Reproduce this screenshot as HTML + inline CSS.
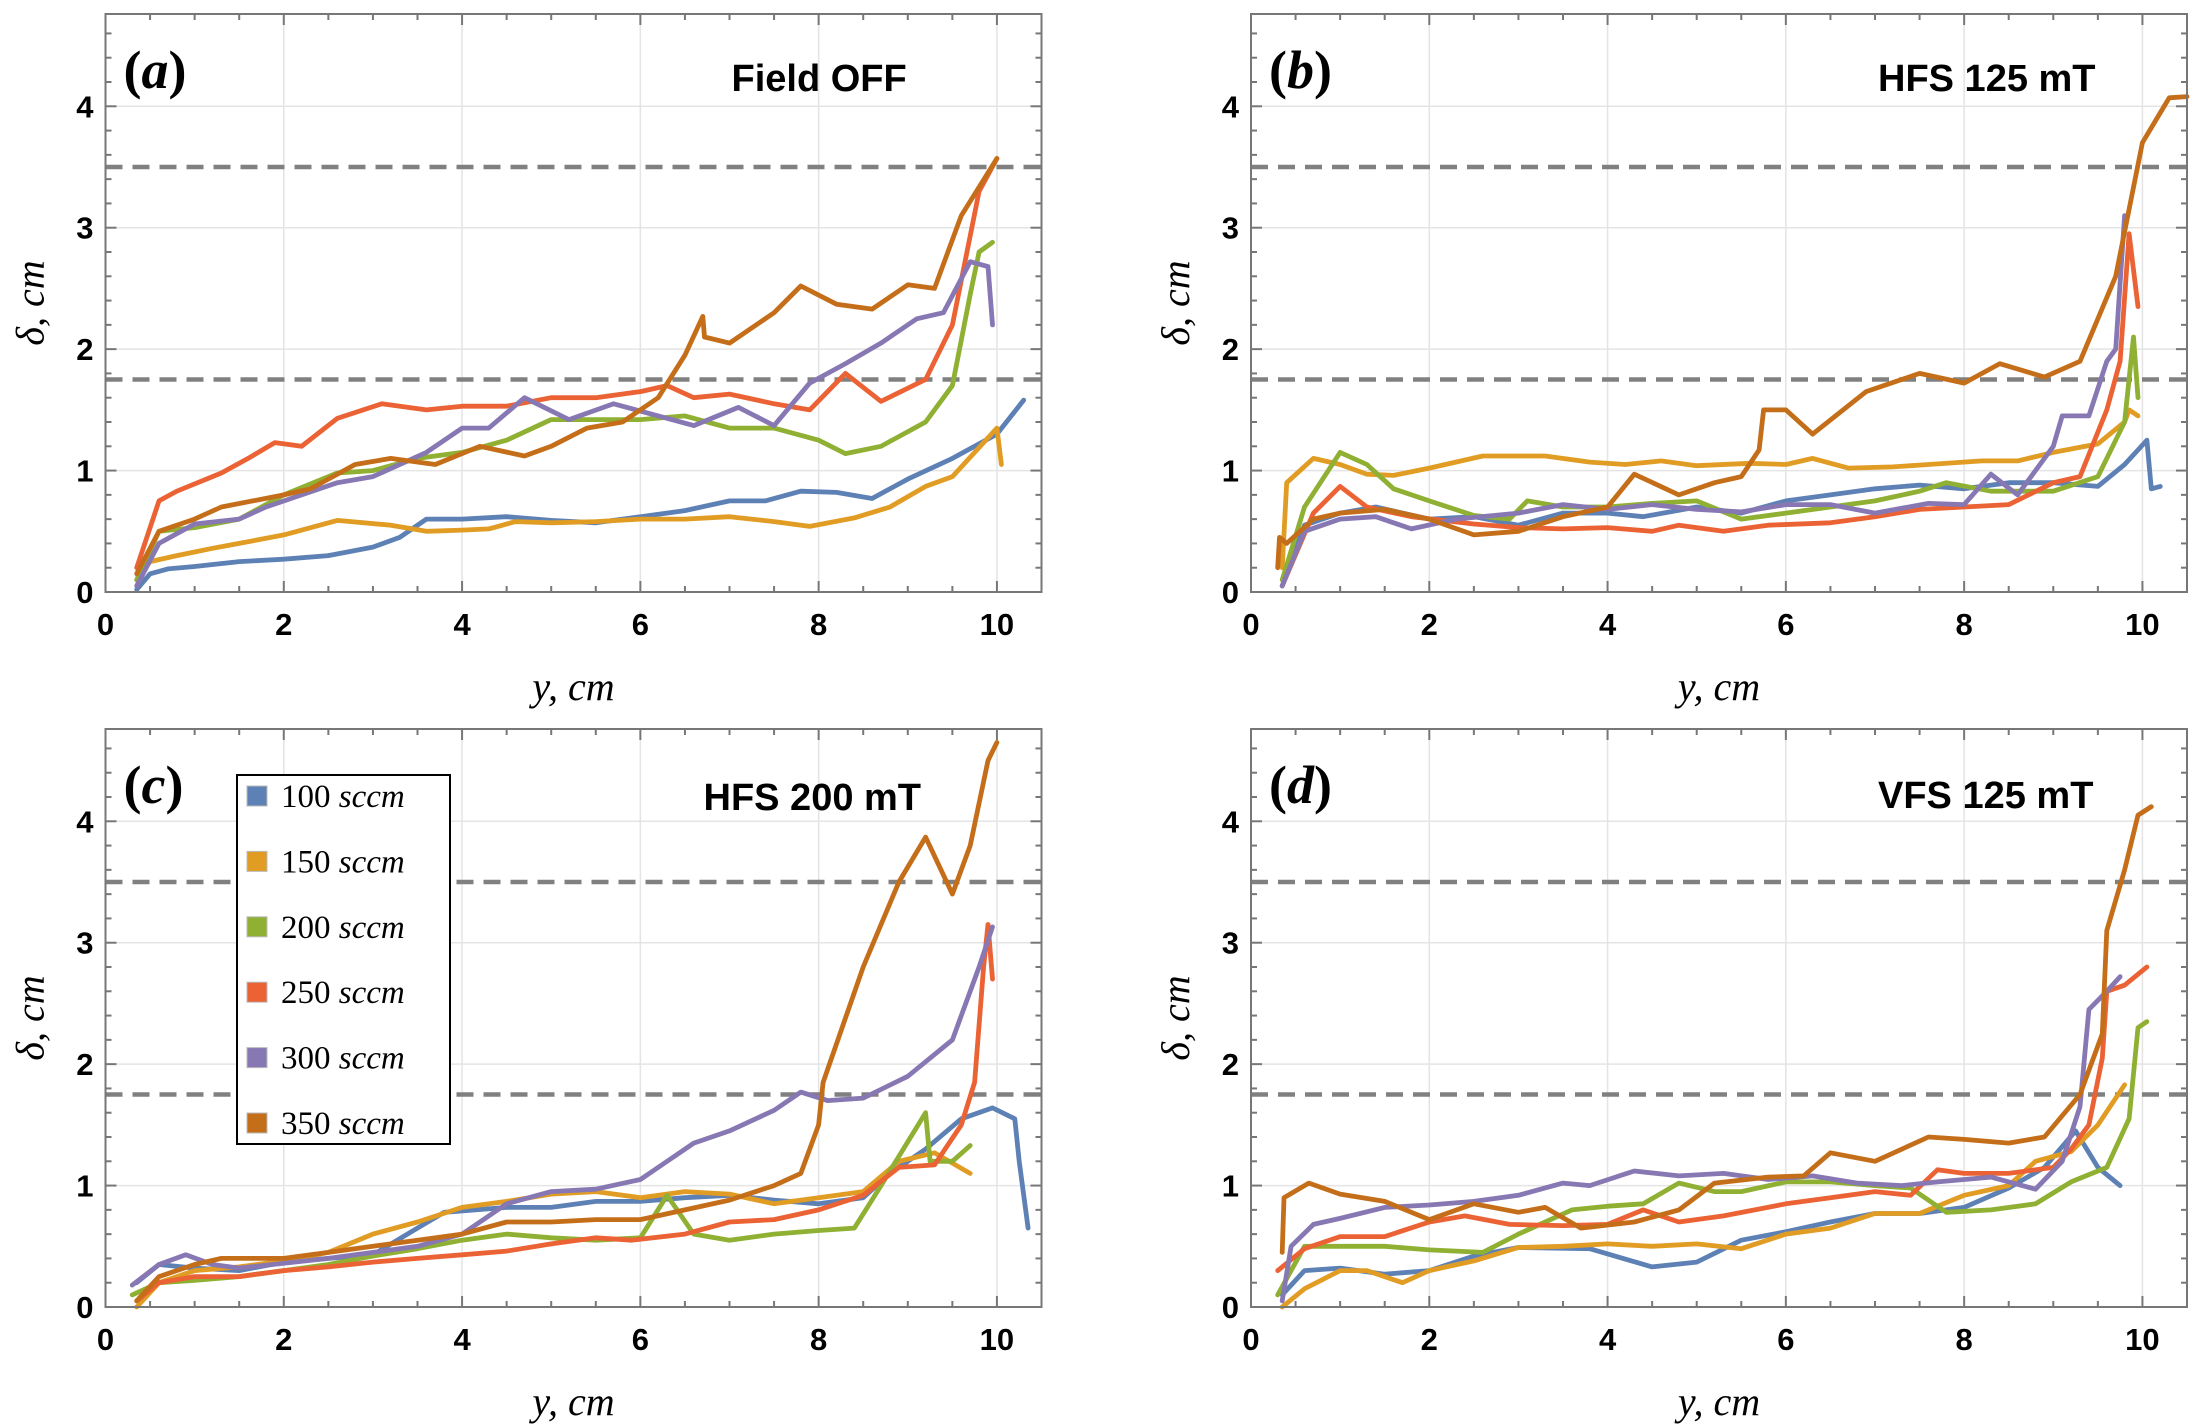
<!DOCTYPE html>
<html><head><meta charset="utf-8">
<style>
html,body{margin:0;padding:0;background:#fff;}
svg{display:block;}
.tick{font-family:"Liberation Sans Narrow","Liberation Sans",sans-serif;font-weight:bold;font-size:31px;fill:#000;}
.ttl{font-family:"Liberation Sans Narrow","Liberation Sans",sans-serif;font-weight:bold;font-size:38px;fill:#000;}
.plab{font-family:"Liberation Serif",serif;font-weight:bold;font-size:54px;fill:#000;}
.ax{font-family:"Liberation Serif",serif;font-style:italic;font-size:40px;fill:#000;}
.leg{font-family:"Liberation Serif",serif;font-size:33px;fill:#000;}
</style></head>
<body>
<svg id="chart" width="2206" height="1428" viewBox="0 0 2206 1428" xmlns="http://www.w3.org/2000/svg"></svg>
<script>
// ---- data ----
const seriesNames = ["100 sccm","150 sccm","200 sccm","250 sccm","300 sccm","350 sccm"];
const panelTitles = ["Field OFF","HFS 125 mT","HFS 200 mT","VFS 125 mT"];
const panelLetters = ["a","b","c","d"];
const xTicks = [0,2,4,6,8,10];
const yTicks = [0,1,2,3,4];
const dashLevels = [1.75,3.5];

// Panel (a) Field OFF
const aX100=[0.35,0.5,0.7,1,1.5,2,2.5,3,3.3,3.6,4,4.5,5,5.5,6,6.5,7,7.4,7.8,8.2,8.6,9,9.5,10,10.3];
const aY100=[0.02,0.15,0.19,0.21,0.25,0.27,0.3,0.37,0.45,0.6,0.6,0.62,0.59,0.57,0.62,0.67,0.75,0.75,0.83,0.82,0.77,0.93,1.1,1.3,1.58];
const aX150=[0.35,0.5,0.8,1.2,1.5,2,2.6,3.2,3.6,4,4.3,4.6,5,5.5,6,6.5,7,7.5,7.9,8.4,8.8,9.2,9.5,10,10.05];
const aY150=[0.1,0.25,0.3,0.36,0.4,0.47,0.59,0.55,0.5,0.51,0.52,0.58,0.57,0.58,0.6,0.6,0.62,0.58,0.54,0.61,0.7,0.87,0.95,1.35,1.05];
const aX200=[0.35,0.6,1,1.5,2,2.6,3,3.5,4,4.5,5,5.5,6,6.5,7,7.5,8,8.3,8.7,9.2,9.5,9.7,9.8,9.95];
const aY200=[0.1,0.5,0.53,0.6,0.8,0.98,1.0,1.1,1.15,1.25,1.42,1.42,1.42,1.45,1.35,1.35,1.25,1.14,1.2,1.4,1.7,2.45,2.8,2.88];
const aX250=[0.35,0.6,0.8,1.3,1.6,1.9,2.2,2.6,3.1,3.6,4,4.5,5,5.5,6,6.3,6.6,7,7.5,7.9,8.3,8.7,9.2,9.5,9.8,10];
const aY250=[0.2,0.75,0.83,0.98,1.1,1.23,1.2,1.43,1.55,1.5,1.53,1.53,1.6,1.6,1.65,1.7,1.6,1.63,1.55,1.5,1.8,1.57,1.75,2.2,3.3,3.57];
const aX300=[0.35,0.6,1,1.5,1.8,2.2,2.6,3,3.6,4,4.3,4.7,5.2,5.7,6.2,6.6,7.1,7.5,7.9,8.3,8.7,9.1,9.4,9.7,9.9,9.95];
const aY300=[0.05,0.4,0.56,0.6,0.7,0.8,0.9,0.95,1.15,1.35,1.35,1.6,1.42,1.55,1.45,1.37,1.52,1.37,1.72,1.88,2.05,2.25,2.3,2.72,2.68,2.2];
const aX350=[0.35,0.6,1,1.3,2,2.3,2.8,3.2,3.7,4.2,4.7,5,5.4,5.8,6.2,6.5,6.7,6.72,7,7.5,7.8,8.2,8.6,9,9.3,9.6,10];
const aY350=[0.15,0.5,0.6,0.7,0.8,0.85,1.05,1.1,1.05,1.2,1.12,1.2,1.35,1.4,1.6,1.95,2.27,2.1,2.05,2.3,2.52,2.37,2.33,2.53,2.5,3.1,3.57];

// Panel (b) HFS 125 mT
const bX100=[0.35,0.6,1,1.4,2,2.5,3,3.5,4,4.4,5,5.5,6,6.5,7,7.5,8,8.5,9,9.5,9.8,10.05,10.1,10.2];
const bY100=[0.05,0.55,0.65,0.7,0.6,0.62,0.55,0.65,0.65,0.62,0.7,0.65,0.75,0.8,0.85,0.88,0.85,0.9,0.9,0.87,1.05,1.25,0.85,0.87];
const bX150=[0.35,0.4,0.7,1,1.3,1.6,2,2.6,3.3,3.8,4.2,4.6,5,5.6,6,6.3,6.7,7.2,7.6,8.2,8.6,9,9.5,9.8,9.85,9.95];
const bY150=[0.2,0.9,1.1,1.05,0.97,0.96,1.02,1.12,1.12,1.07,1.05,1.08,1.04,1.06,1.05,1.1,1.02,1.03,1.05,1.08,1.08,1.15,1.22,1.4,1.5,1.45];
const bX200=[0.35,0.6,1,1.3,1.6,2,2.5,2.9,3.1,3.5,4,4.5,5,5.5,6,6.5,7,7.5,7.8,8.3,9,9.5,9.8,9.9,9.95];
const bY200=[0.1,0.7,1.15,1.05,0.85,0.75,0.63,0.6,0.75,0.7,0.7,0.73,0.75,0.6,0.65,0.7,0.75,0.83,0.9,0.83,0.83,0.95,1.4,2.1,1.6];
const bX250=[0.35,0.7,1,1.3,1.8,2.5,3,3.5,4,4.5,4.8,5.3,5.8,6.5,7,7.5,8,8.5,9,9.3,9.6,9.75,9.85,9.95];
const bY250=[0.05,0.65,0.87,0.7,0.62,0.56,0.53,0.52,0.53,0.5,0.55,0.5,0.55,0.57,0.62,0.68,0.7,0.72,0.9,0.95,1.5,1.9,2.95,2.35];
const bX300=[0.35,0.6,1,1.4,1.8,2.3,3,3.5,4,4.5,5,5.5,6,6.5,7,7.6,8,8.3,8.6,9,9.1,9.4,9.6,9.7,9.8];
const bY300=[0.05,0.5,0.6,0.62,0.52,0.6,0.65,0.72,0.68,0.72,0.68,0.66,0.72,0.72,0.65,0.73,0.72,0.97,0.8,1.2,1.45,1.45,1.9,2.0,3.1];
const bX350=[0.3,0.32,0.4,0.7,1,1.5,2,2.5,3,3.5,4,4.3,4.8,5.2,5.5,5.7,5.75,6,6.3,6.9,7.5,8,8.4,8.9,9.3,9.7,10,10.3,10.5];
const bY350=[0.2,0.45,0.4,0.6,0.65,0.68,0.6,0.47,0.5,0.62,0.7,0.97,0.8,0.9,0.95,1.17,1.5,1.5,1.3,1.65,1.8,1.72,1.88,1.77,1.9,2.6,3.7,4.07,4.08];

// Panel (c) HFS 200 mT
const cX100=[0.35,0.6,1,1.5,2,2.5,3,3.5,3.8,4.5,5,5.5,6,6.5,7,7.5,8,8.5,8.8,9.2,9.6,9.95,10.2,10.25,10.35];
const cY100=[0.2,0.35,0.32,0.3,0.37,0.4,0.43,0.65,0.78,0.82,0.82,0.87,0.87,0.9,0.92,0.88,0.85,0.9,1.1,1.3,1.55,1.64,1.55,1.2,0.65];
const cX150=[0.35,0.6,1,1.5,2,2.5,3,3.5,4,4.5,5,5.5,6,6.5,7,7.5,8,8.5,8.9,9.3,9.7];
const cY150=[0,0.2,0.3,0.33,0.38,0.45,0.6,0.7,0.82,0.87,0.93,0.95,0.9,0.95,0.93,0.85,0.9,0.95,1.2,1.27,1.1];
const cX200=[0.3,0.6,1,1.5,2,2.5,3,3.5,4,4.5,5,5.5,6,6.3,6.6,7,7.5,8,8.4,8.7,9.2,9.25,9.5,9.7];
const cY200=[0.1,0.2,0.22,0.25,0.3,0.35,0.42,0.48,0.55,0.6,0.57,0.55,0.57,0.92,0.6,0.55,0.6,0.63,0.65,1.0,1.6,1.2,1.2,1.33];
const cX250=[0.35,0.6,1,1.5,2,2.5,3,3.5,4,4.5,5,5.5,5.9,6.5,7,7.5,8,8.5,8.9,9.3,9.6,9.75,9.85,9.9,9.95];
const cY250=[0.05,0.2,0.25,0.25,0.3,0.33,0.37,0.4,0.43,0.46,0.52,0.57,0.55,0.6,0.7,0.72,0.8,0.92,1.15,1.17,1.5,1.85,2.8,3.15,2.7];
const cX300=[0.3,0.6,0.9,1.2,1.5,2,2.5,3,3.5,4,4.5,5,5.5,6,6.3,6.6,7,7.5,7.8,8.1,8.5,9,9.5,9.8,9.95];
const cY300=[0.18,0.35,0.43,0.35,0.32,0.36,0.4,0.45,0.5,0.6,0.85,0.95,0.97,1.05,1.2,1.35,1.45,1.62,1.77,1.7,1.72,1.9,2.2,2.8,3.13];
const cX350=[0.35,0.6,1,1.3,2,2.5,3,3.5,4,4.5,5,5.5,6,6.5,7,7.5,7.8,8.0,8.05,8.5,8.9,9.2,9.5,9.7,9.9,10];
const cY350=[0.05,0.25,0.35,0.4,0.4,0.45,0.5,0.55,0.6,0.7,0.7,0.72,0.72,0.8,0.88,1.0,1.1,1.5,1.85,2.8,3.5,3.87,3.4,3.8,4.5,4.65];

// Panel (d) VFS 125 mT
const dX100=[0.35,0.6,1,1.5,2,2.5,3,3.8,4.5,5,5.5,6,6.5,7,7.5,8,8.5,8.9,9.25,9.5,9.75];
const dY100=[0.1,0.3,0.32,0.27,0.3,0.42,0.49,0.48,0.33,0.37,0.55,0.62,0.7,0.77,0.77,0.82,0.98,1.15,1.45,1.15,1.0];
const dX150=[0.35,0.6,1,1.3,1.7,2,2.5,3,3.5,4,4.5,5,5.5,6,6.5,7,7.5,8,8.5,8.8,9.2,9.5,9.8];
const dY150=[0,0.15,0.3,0.3,0.2,0.3,0.38,0.49,0.5,0.52,0.5,0.52,0.48,0.6,0.65,0.77,0.77,0.92,1.0,1.2,1.28,1.5,1.83];
const dX200=[0.3,0.6,1,1.5,2,2.6,3,3.6,4,4.4,4.8,5.2,5.5,6,6.5,7,7.4,7.8,8.3,8.8,9.2,9.6,9.85,9.95,10.05];
const dY200=[0.1,0.5,0.5,0.5,0.47,0.45,0.6,0.8,0.83,0.85,1.02,0.95,0.95,1.03,1.03,1.0,0.98,0.78,0.8,0.85,1.03,1.15,1.55,2.3,2.35];
const dX250=[0.3,0.6,1,1.5,2,2.4,2.9,3.5,4,4.4,4.8,5.3,6,6.5,7,7.4,7.7,8,8.5,9,9.2,9.4,9.55,9.6,9.8,10.05];
const dY250=[0.3,0.48,0.58,0.58,0.7,0.75,0.68,0.67,0.68,0.8,0.7,0.75,0.85,0.9,0.95,0.92,1.13,1.1,1.1,1.15,1.3,1.5,2.05,2.6,2.65,2.8];
const dX300=[0.35,0.45,0.7,1,1.5,2,2.5,3,3.5,3.8,4.3,4.8,5.3,5.8,6.3,6.8,7.3,7.7,8.3,8.8,9.1,9.3,9.4,9.6,9.75];
const dY300=[0.05,0.5,0.68,0.73,0.82,0.84,0.87,0.92,1.02,1.0,1.12,1.08,1.1,1.05,1.08,1.02,1.0,1.03,1.07,0.97,1.2,1.65,2.45,2.6,2.72];
const dX350=[0.35,0.37,0.65,1,1.5,2,2.5,3,3.3,3.7,4.3,4.8,5.2,5.8,6.2,6.5,7,7.6,8,8.5,8.9,9.3,9.55,9.6,9.8,9.95,10.1];
const dY350=[0.45,0.9,1.02,0.93,0.87,0.72,0.85,0.78,0.82,0.65,0.7,0.8,1.02,1.07,1.08,1.27,1.2,1.4,1.38,1.35,1.4,1.75,2.25,3.1,3.6,4.05,4.12];

const panelSeriesX=[[aX100,aX150,aX200,aX250,aX300,aX350],[bX100,bX150,bX200,bX250,bX300,bX350],[cX100,cX150,cX200,cX250,cX300,cX350],[dX100,dX150,dX200,dX250,dX300,dX350]];
const panelSeriesY=[[aY100,aY150,aY200,aY250,aY300,aY350],[bY100,bY150,bY200,bY250,bY300,bY350],[cY100,cY150,cY200,cY250,cY300,cY350],[dY100,dY150,dY200,dY250,dY300,dY350]];

// ---- layout / style ----
const colors=["#5E81B5","#E19C24","#8FB032","#EB6235","#8778B3","#C56E1A"];
const panelLeft=[105.5,1251,105.5,1251];
const panelTop=[14,14,729,729];
const PW=936, PH=578, XMAX=10.5, YMAX=4.76;
const NS="http://www.w3.org/2000/svg";
const svg=document.getElementById('chart');
function mk(tag,attrs,parent){const e=document.createElementNS(NS,tag);for(const k in attrs)e.setAttribute(k,attrs[k]);(parent||svg).appendChild(e);return e;}

for(let p=0;p<4;p++){
  const L=panelLeft[p],T=panelTop[p],B=T+PH,R=L+PW;
  const sx=v=>L+v/XMAX*PW;
  const sy=v=>B-v/YMAX*PH;
  const g=mk('g',{});
  
  
  const grid=mk('g',{},g);
  
  
  xTicks.forEach(t=>{if(t>0)mk('line',{x1:sx(t),x2:sx(t),y1:T,y2:B,stroke:'#e4e4e4','stroke-width':1.5},grid);});
  yTicks.forEach(t=>{if(t>0)mk('line',{x1:L,x2:R,y1:sy(t),y2:sy(t),stroke:'#e4e4e4','stroke-width':1.5},grid);});
  dashLevels.forEach(d=>{
    const ln=mk('line',{x1:L,x2:R,y1:sy(d),y2:sy(d),stroke:'#808080','stroke-width':4.5,'stroke-dasharray':'17,10'},g);
    
    
  });
  for(let s=0;s<6;s++){
    const xs=panelSeriesX[p][s], ys=panelSeriesY[p][s];
    let dstr='';
    for(let i=0;i<xs.length;i++)dstr+=(i?'L':'M')+sx(xs[i]).toFixed(1)+','+sy(ys[i]).toFixed(1);
    const path=mk('path',{d:dstr,fill:'none',stroke:colors[s],'stroke-width':4.8,'stroke-linejoin':'round','stroke-linecap':'round'},g);
    
    
  }
  const fr=mk('rect',{x:L,y:T,width:PW,height:PH,fill:'none',stroke:'#777','stroke-width':2},g);
  
  
  const tk=mk('g',{stroke:'#777','stroke-width':2},g);
  
  
  for(let v=0;v<=XMAX+1e-6;v+=0.5){const maj=Math.abs(v/2-Math.round(v/2))<1e-6;const len=maj?11:6;
    mk('line',{x1:sx(v),x2:sx(v),y1:B,y2:B-len},tk);mk('line',{x1:sx(v),x2:sx(v),y1:T,y2:T+len},tk);}
  for(let v=0;v<=YMAX+1e-6;v+=0.2){const maj=Math.abs(v-Math.round(v))<1e-6;const len=maj?11:6;
    mk('line',{x1:L,x2:L+len,y1:sy(v),y2:sy(v)},tk);mk('line',{x1:R,x2:R-len,y1:sy(v),y2:sy(v)},tk);}
  xTicks.forEach(t=>{const e=mk('text',{x:sx(t),y:B+43,'text-anchor':'middle',class:'tick'},g);e.textContent=t;
    });
  yTicks.forEach(t=>{const e=mk('text',{x:L-12,y:sy(t)+11,'text-anchor':'end',class:'tick'},g);e.textContent=t;
    });
  const xt=mk('text',{x:(L+R)/2,y:B+108,'text-anchor':'middle',class:'ax'},g);xt.textContent='y,  cm';
  
  const yt=mk('text',{x:0,y:0,'text-anchor':'middle',class:'ax',transform:'translate('+(L-62)+','+((T+B)/2)+') rotate(-90)'},g);yt.textContent='δ,  cm';
  
  const pl=mk('text',{x:L+18,y:T+74,class:'plab'},g);
  const p1=document.createElementNS(NS,'tspan');p1.textContent='(';pl.appendChild(p1);
  const p2=document.createElementNS(NS,'tspan');p2.setAttribute('font-style','italic');p2.textContent=panelLetters[p];pl.appendChild(p2);
  const p3=document.createElementNS(NS,'tspan');p3.textContent=')';pl.appendChild(p3);
  
  const tx=[626,627,598,627][p];
  const ti=mk('text',{x:L+tx,y:T+[77,77,81,79][p],class:'ttl'},g);ti.textContent=panelTitles[p];
  
}
const lg=mk('g',{});


mk('rect',{x:237,y:775,width:213,height:369,fill:'#fff',stroke:'#000','stroke-width':2},lg);
for(let s=0;s<6;s++){
  const cy=796+s*65.4;
  const en=mk('g',{},lg);
  
  
  mk('rect',{x:247,y:cy-10,width:20,height:20,fill:colors[s],stroke:'#bbb','stroke-width':1},en);
  const t=mk('text',{x:281,y:cy+11,class:'leg'},en);
  const parts=seriesNames[s].split(' ');
  const t1=document.createElementNS(NS,'tspan');t1.textContent=parts[0]+' ';t.appendChild(t1);
  const t2=document.createElementNS(NS,'tspan');t2.setAttribute('font-style','italic');t2.textContent=parts[1];t.appendChild(t2);
}
</script>
</body></html>
